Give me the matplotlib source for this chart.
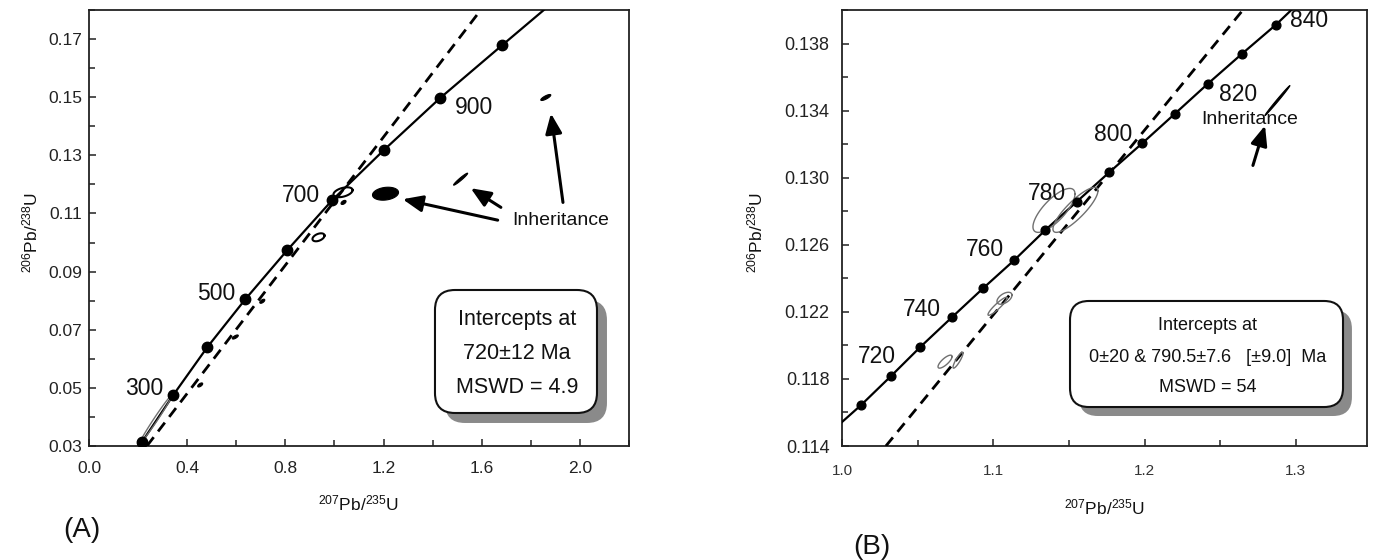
import numpy as np
import matplotlib
matplotlib.use('Agg')
import matplotlib.pyplot as plt
from matplotlib.patches import FancyBboxPatch

plt.rcParams['font.family'] = ['Liberation Sans', 'DejaVu Sans']
plt.rcParams['mathtext.default'] = 'regular'

# ---- panel A data ----
conc_a_age = [200, 300, 400, 500, 600, 700, 800, 900, 1000]
conc_a_x = [0.216, 0.343, 0.482, 0.637, 0.808, 0.990, 1.200, 1.429, 1.682]
conc_a_y = [0.0314, 0.0475, 0.0640, 0.0805, 0.0974, 0.1145, 0.1317, 0.1496, 0.1678]
conc_a_end = (1.853, 0.180)
disc_a_x = [0.236, 1.596]
disc_a_y = [0.030, 0.180]

ell_a_x = [0.273, 0.453, 0.596, 0.706, 0.935, 1.035, 1.037, 1.208, 1.514, 1.861]
ell_a_y = [0.0393, 0.0510, 0.0675, 0.0798, 0.1018, 0.1173, 0.1138, 0.1168, 0.1218, 0.1499]
ell_a_sx = [0.065, 0.0102, 0.0122, 0.0102, 0.0245, 0.039, 0.0102, 0.053, 0.0286, 0.0204]
ell_a_sy = [0.0082, 0.0007, 0.0007, 0.0007, 0.00137, 0.0017, 0.0007, 0.00223, 0.00206, 0.00103]
ell_a_rho = [0.99, 0.6, 0.7, 0.6, 0.43, 0.43, 0.5, 0.2, 0.965, 0.8]
ell_a_kind = ['grey', 'fill', 'fill', 'fill', 'open', 'open', 'fill', 'fill', 'fill', 'fill']

labels_a = ['300', '500', '700', '900']
box_a = ['Intercepts at', '720\u00b112 Ma', 'MSWD = 4.9']

# ---- panel B data ----
conc_b_age = [710, 720, 730, 740, 750, 760, 770, 780, 790, 800, 810, 820, 830, 840]
conc_b_x = [1.0126, 1.0324, 1.0516, 1.0727, 1.0932, 1.1137, 1.1342, 1.1553,
            1.1765, 1.1983, 1.2201, 1.2419, 1.2644, 1.2868]
conc_b_y = [0.11644, 0.11817, 0.11989, 0.12168, 0.12340, 0.12507, 0.12686, 0.12858,
            0.13031, 0.13204, 0.13382, 0.13561, 0.13739, 0.13912]
conc_b_start = (1.0, 0.11543)
conc_b_end = (1.297, 0.140)
disc_b_x = [1.029, 1.265]
disc_b_y = [0.114, 0.140]

ell_b_x = [1.1401, 1.1543, 1.1028, 1.1074, 1.0681, 1.0767, 1.2878]
ell_b_y = [0.12805, 0.12808, 0.12233, 0.12281, 0.11903, 0.11912, 0.13460]
ell_b_sx = [0.01388, 0.01487, 0.0063, 0.00496, 0.00463, 0.0033, 0.00826]
ell_b_sy = [0.00131, 0.00134, 0.000536, 0.000357, 0.000387, 0.000476, 0.000893]
ell_b_rho = [0.75, 0.85, 0.92, 0.52, 0.78, 0.88, 0.995]
ell_b_kind = ['grey', 'grey', 'grey', 'grey', 'grey', 'grey', 'fill']

labels_b = ['720', '740', '760', '780', '800', '820', '840']
box_b = ['Intercepts at', '0\u00b120 & 790.5\u00b17.6   [\u00b19.0]  Ma', 'MSWD = 54']


def ellipse(cx, cy, sx, sy, rho, n=120):
    t = np.linspace(0, 2 * np.pi, n)
    u, v = np.cos(t), np.sin(t)
    return cx + sx * u, cy + sy * (rho * u + np.sqrt(1 - rho ** 2) * v)


def draw_ellipses(ax, xs, ys, sxs, sys_, rhos, kinds):
    for x, y, sx, sy, r, k in zip(xs, ys, sxs, sys_, rhos, kinds):
        ex, ey = ellipse(x, y, sx, sy, r)
        if k == 'fill':
            ax.fill(ex, ey, color='black', lw=0.8, zorder=4)
        elif k == 'open':
            ax.plot(ex, ey, color='black', lw=1.5, zorder=4)
        else:
            ax.plot(ex, ey, color='#707070', lw=1.0, zorder=4)


def shadow_box(ax, x0, y0, x1, y1, dx, dy, rad, lines, ys, xc, fs):
    bb = ax.get_position()
    asp = (bb.width * 1374) / (bb.height * 560)
    style = 'round,pad=0,rounding_size=%g' % rad
    ax.add_patch(FancyBboxPatch((x0 + dx, y0 + dy), x1 - x0, y1 - y0, boxstyle=style,
                                mutation_aspect=asp, transform=ax.transAxes,
                                fc='#8a8a8a', ec='none', zorder=6))
    ax.add_patch(FancyBboxPatch((x0, y0), x1 - x0, y1 - y0, boxstyle=style,
                                mutation_aspect=asp, transform=ax.transAxes,
                                fc='white', ec='#111111', lw=1.5, zorder=7))
    for s, yy in zip(lines, ys):
        ax.text(xc, yy, s, transform=ax.transAxes, ha='center', va='center',
                fontsize=fs, color='#111111', zorder=8)


def style_axes(ax):
    for sp in ax.spines.values():
        sp.set_linewidth(1.3)
        sp.set_color('#222222')
    ax.tick_params(which='both', direction='in', width=1.1, color='#222222')
    ax.tick_params(which='major', length=5)
    ax.tick_params(which='minor', length=4)


arrow = dict(arrowstyle='-|>,head_length=0.6,head_width=0.25', lw=2.2, color='black',
             mutation_scale=20, shrinkA=0, shrinkB=0)

fig = plt.figure(figsize=(13.74, 5.6), dpi=100)
axA = fig.add_axes([89 / 1374, 114 / 560, 540 / 1374, 436 / 560])
axB = fig.add_axes([842 / 1374, 114 / 560, 525 / 1374, 436 / 560])

# ---------------- panel A ----------------
axA.plot(conc_a_x + [conc_a_end[0]], conc_a_y + [conc_a_end[1]], color='black', lw=1.6, zorder=3)
axA.plot(disc_a_x, disc_a_y, color='black', lw=2.0, dashes=(4, 2.6), zorder=3)
axA.plot(conc_a_x, conc_a_y, 'o', color='black', ms=7.5, zorder=5)
draw_ellipses(axA, ell_a_x, ell_a_y, ell_a_sx, ell_a_sy, ell_a_rho, ell_a_kind)

for s, (tx, ty) in zip(labels_a, [(0.224, 0.0499), (0.518, 0.0826), (0.865, 0.1163), (1.567, 0.1465)]):
    axA.text(tx, ty, s, ha='center', va='center', fontsize=16.5, color='#111111', zorder=6)

axA.text(1.922, 0.1077, 'Inheritance', ha='center', va='center', fontsize=14, color='#111111')
axA.annotate('', xy=(1.278, 0.1149), xytext=(1.665, 0.1077), arrowprops=arrow)
axA.annotate('', xy=(1.555, 0.1187), xytext=(1.678, 0.1121), arrowprops=arrow)
axA.annotate('', xy=(1.882, 0.1444), xytext=(1.931, 0.1138), arrowprops=arrow)

shadow_box(axA, 0.6407, 0.0757, 0.9407, 0.3578, 0.0185, -0.0229, 0.037,
           box_a, [0.289, 0.213, 0.135], 0.7926, 15.5)

axA.set_xlim(0, 2.2)
axA.set_ylim(0.03, 0.18)
axA.set_xticks(np.arange(0, 2.01, 0.4))
axA.set_xticks(np.arange(0, 2.21, 0.2), minor=True)
axA.set_yticks(np.arange(0.03, 0.171, 0.02))
axA.set_yticks(np.arange(0.03, 0.181, 0.01), minor=True)
axA.set_xticklabels(['%.1f' % v for v in np.arange(0, 2.01, 0.4)])
axA.set_yticklabels(['%.2f' % v for v in np.arange(0.03, 0.171, 0.02)])
style_axes(axA)
axA.tick_params(axis='x', which='major', pad=11, labelsize=12.5, labelcolor='#222222')
axA.tick_params(axis='y', which='major', pad=5, labelsize=12.5, labelcolor='#222222')
axA.set_xlabel('$^{207}$Pb/$^{235}$U', fontsize=12.5, color='#111111')
axA.set_ylabel('$^{206}$Pb/$^{238}$U', fontsize=12.5, color='#111111')
axA.xaxis.set_label_coords(0.5, -0.108)
axA.yaxis.set_label_coords(-0.09, 0.49)

# ---------------- panel B ----------------
axB.plot([conc_b_start[0]] + conc_b_x + [conc_b_end[0]],
         [conc_b_start[1]] + conc_b_y + [conc_b_end[1]], color='black', lw=1.6, zorder=3)
axB.plot(disc_b_x, disc_b_y, color='black', lw=2.0, dashes=(4, 2.6), zorder=3)
axB.plot(conc_b_x, conc_b_y, 'o', color='black', ms=6.3, zorder=5)
draw_ellipses(axB, ell_b_x, ell_b_y, ell_b_sx, ell_b_sy, ell_b_rho, ell_b_kind)

pos_b = [(1.0231, 0.11934), (1.0529, 0.12214), (1.0945, 0.12571), (1.1355, 0.12907),
         (1.1789, 0.13258), (1.2617, 0.13497), (1.3087, 0.13938)]
for s, (tx, ty) in zip(labels_b, pos_b):
    axB.text(tx, ty, s, ha='center', va='center', fontsize=16.5, color='#111111', zorder=6)

axB.text(1.2696, 0.13350, 'Inheritance', ha='center', va='center', fontsize=14, color='#111111')
axB.annotate('', xy=(1.2796, 0.13311), xytext=(1.2716, 0.13073), arrowprops=arrow)

shadow_box(axB, 0.4343, 0.0894, 0.9543, 0.3326, 0.017, -0.0206, 0.036,
           box_b, [0.2775, 0.2041, 0.1353], 0.697, 13)

axB.set_xlim(1.0, 1.347)
axB.set_ylim(0.114, 0.140)
axB.set_xticks([1.0, 1.1, 1.2, 1.3])
axB.set_xticks(np.arange(1.0, 1.346, 0.05), minor=True)
axB.set_yticks(np.arange(0.114, 0.1385, 0.004))
axB.set_yticks(np.arange(0.114, 0.1401, 0.002), minor=True)
axB.set_xticklabels(['1.0', '1.1', '1.2', '1.3'])
axB.set_yticklabels(['%.3f' % v for v in np.arange(0.114, 0.1385, 0.004)])
style_axes(axB)
axB.tick_params(axis='x', which='major', pad=13, labelsize=11, labelcolor='#333333')
axB.tick_params(axis='y', which='major', pad=9, labelsize=13, labelcolor='#222222')
axB.set_xlabel('$^{207}$Pb/$^{235}$U', fontsize=12.5, color='#111111')
axB.set_ylabel('$^{206}$Pb/$^{238}$U', fontsize=12.5, color='#111111')
axB.xaxis.set_label_coords(0.5, -0.119)
axB.yaxis.set_label_coords(-0.145, 0.49)

fig.text(82 / 1374, 1 - 530 / 560, '(A)', ha='center', va='center', fontsize=20, color='#111111')
fig.text(872 / 1374, 1 - 547 / 560, '(B)', ha='center', va='center', fontsize=20, color='#111111')

fig.savefig('out.png', dpi=100, facecolor='white')
